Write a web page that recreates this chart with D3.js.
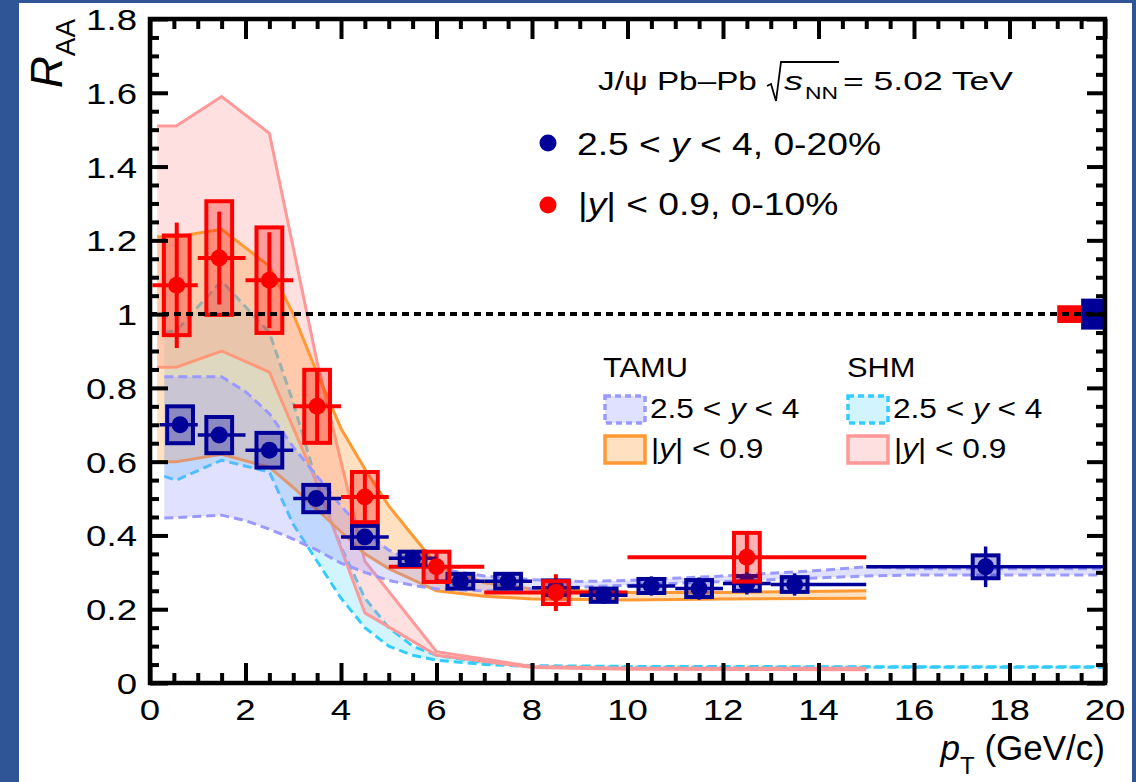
<!DOCTYPE html>
<html><head><meta charset="utf-8">
<script src="https://cdn.jsdelivr.net/npm/d3@7"></script>
<style>
html,body{margin:0;padding:0;background:#2f5596;}
svg{display:block;font-family:"Liberation Sans",Arial,Helvetica,sans-serif;}
text{white-space:pre;}
</style></head>
<body>
<svg id="c" width="1136" height="782"></svg>
<script>
// ---------- axes ----------
const xDomain=[0,20], yDomain=[0,1.8];
const xTickVals=[0,2,4,6,8,10,12,14,16,18,20];
const yTickVals=[0,0.2,0.4,0.6,0.8,1,1.2,1.4,1.6,1.8];
const xTickLabels=["0","2","4","6","8","10","12","14","16","18","20"];
const yTickLabels=["0","0.2","0.4","0.6","0.8","1","1.2","1.4","1.6","1.8"];

// ---------- data: forward 2.5<y<4, 0-20% ----------
const fwdPt  =[0.63,1.45,2.5,3.48,4.5,5.5,6.5,7.5,8.5,9.5,10.5,11.5,12.5,13.5,17.5];
const fwdLo  =[0.2,1,2,3,4,5,6,7,8,9,10,11,12,13,15];
const fwdHi  =[1,2,3,4,5,6,7,8,9,10,11,12,13,15,20];
const fwdRaa =[0.70,0.672,0.631,0.50,0.396,0.338,0.276,0.276,0.258,0.238,0.263,0.256,0.27,0.267,0.315];
const fwdStat=[0.02,0.02,0.02,0.015,0.015,0.012,0.015,0.018,0.02,0.022,0.026,0.03,0.03,0.03,0.055];
const fwdSyst=[0.05,0.049,0.047,0.037,0.03,0.018,0.02,0.02,0.02,0.018,0.019,0.023,0.02,0.02,0.031];

// ---------- data: mid |y|<0.9, 0-10% ----------
const midPt  =[0.56,1.45,2.5,3.5,4.5,6.0,8.5,12.5];
const midLo  =[0.05,1,2,3,4,5,7,10];
const midHi  =[1,2,3,4,5,7,10,15];
const midRaa =[1.078,1.152,1.092,0.75,0.504,0.315,0.245,0.341];
const midStat=[0.17,0.126,0.13,0.095,0.065,0.045,0.05,0.07];
const midSyst=[0.135,0.154,0.143,0.099,0.068,0.041,0.031,0.066];

// global normalisation uncertainties (mid, fwd)
const normLo=[19,19.5], normHi=[19.5,20], normUnc=[0.024,0.042];

// ---------- models ----------
const tamuFwdX =[0.3,1.5,2.0,2.5,3.0,3.5,4.0,4.5,5.0,5.5,6.0,7,8,9,10,12,14,15,16,18,20];
const tamuFwdHi=[0.83,0.83,0.79,0.73,0.64,0.56,0.48,0.41,0.36,0.33,0.31,0.29,0.28,0.275,0.278,0.29,0.305,0.315,0.31,0.31,0.31];
const tamuFwdLo=[0.447,0.455,0.44,0.417,0.39,0.36,0.325,0.30,0.278,0.265,0.255,0.25,0.255,0.26,0.265,0.275,0.285,0.29,0.293,0.293,0.293];

const tamuMidX =[0.15,0.55,1.5,2.5,3.0,3.5,4.0,4.5,5.0,5.5,6.0,7,8,10,12,15];
const tamuMidHi=[1.21,1.21,1.23,1.13,1.0,0.84,0.69,0.58,0.48,0.40,0.32,0.272,0.255,0.245,0.245,0.25];
const tamuMidLo=[0.60,0.60,0.62,0.585,0.53,0.47,0.41,0.35,0.31,0.28,0.25,0.235,0.228,0.225,0.228,0.23];

const shmFwdX =[0.3,0.55,1.5,2.5,3.0,3.5,4.0,4.5,5.0,5.5,6.0,7,8,10,15,20];
const shmFwdHi=[0.95,0.955,1.09,0.95,0.76,0.54,0.37,0.23,0.15,0.10,0.075,0.055,0.047,0.045,0.044,0.044];
const shmFwdLo=[0.56,0.55,0.604,0.572,0.43,0.33,0.23,0.15,0.10,0.075,0.062,0.05,0.045,0.043,0.043,0.043];

const shmMidX =[0.15,0.55,1.5,2.5,3.5,4.5,6,8,10,15];
const shmMidHi=[1.51,1.51,1.59,1.49,0.87,0.33,0.085,0.045,0.04,0.04];
const shmMidLo=[0.856,0.856,0.90,0.843,0.54,0.19,0.075,0.042,0.037,0.036];

// ---------- drawing ----------
const svg=d3.select("#c");
svg.append("rect").attr("width",1136).attr("height",782).attr("fill","#2f5596");
svg.append("rect").attr("x",19).attr("y",3).attr("width",1113).attr("height",779).attr("fill","#fff");

const x=d3.scaleLinear().domain(xDomain).range([150,1105]);
const y=d3.scaleLinear().domain(yDomain).range([683,19]);

svg.append("clipPath").attr("id","plot").append("rect")
  .attr("x",x(0)).attr("y",y(1.8)).attr("width",x(20)-x(0)).attr("height",y(0)-y(1.8));
const gp=svg.append("g").attr("clip-path","url(#plot)");

const BLUE="#000099", RED="#ff0000";
const models=[
  {X:shmFwdX, lo:shmFwdLo, hi:shmFwdHi, col:"#33ccff", op:0.22, dash:"9,5"},
  {X:shmMidX, lo:shmMidLo, hi:shmMidHi, col:"#ff9999", op:0.30, dash:null},
  {X:tamuMidX,lo:tamuMidLo,hi:tamuMidHi,col:"#ff9933", op:0.30, dash:null},
  {X:tamuFwdX,lo:tamuFwdLo,hi:tamuFwdHi,col:"#9999ff", op:0.30, dash:"9,5"}
];
const area=d3.area().x(d=>x(d.x)).y0(d=>y(d.lo)).y1(d=>y(d.hi));
const lineHi=d3.line().x(d=>x(d.x)).y(d=>y(d.hi));
const lineLo=d3.line().x(d=>x(d.x)).y(d=>y(d.lo));
models.forEach(m=>{
  const pts=m.X.map((v,i)=>({x:v,lo:m.lo[i],hi:m.hi[i]}));
  gp.append("path").attr("d",area(pts)).attr("fill",m.col).attr("fill-opacity",m.op);
  [lineHi,lineLo].forEach(gen=>{
    gp.append("path").attr("d",gen(pts)).attr("fill","none").attr("stroke",m.col)
      .attr("stroke-width",3).attr("stroke-dasharray",m.dash);
  });
});

// normalisation boxes
const normCols=[RED,BLUE];
normLo.forEach((v,i)=>{
  gp.append("rect").attr("x",x(v)).attr("width",x(normHi[i])-x(v))
    .attr("y",y(1+normUnc[i])).attr("height",y(1-normUnc[i])-y(1+normUnc[i]))
    .attr("fill",normCols[i]);
});

const HW=0.27; // half width of syst boxes in pT units
function bars(P,L,Hh,R,S,col,w){
  P.forEach((p,i)=>{
    gp.append("line").attr("x1",x(L[i])).attr("x2",x(Hh[i])).attr("y1",y(R[i])).attr("y2",y(R[i]))
      .attr("stroke",col).attr("stroke-width",w);
    gp.append("line").attr("x1",x(p)).attr("x2",x(p)).attr("y1",y(R[i]-S[i])).attr("y2",y(R[i]+S[i]))
      .attr("stroke",col).attr("stroke-width",w);
  });
}
function boxes(P,R,S,col,op,w){
  P.forEach((p,i)=>{
    gp.append("rect").attr("x",x(p-HW)).attr("width",x(p+HW)-x(p-HW))
      .attr("y",y(R[i]+S[i])).attr("height",y(R[i]-S[i])-y(R[i]+S[i]))
      .attr("fill",col).attr("fill-opacity",op).attr("stroke",col).attr("stroke-width",w);
  });
}
function markers(P,R,col){
  P.forEach((p,i)=>gp.append("circle").attr("cx",x(p)).attr("cy",y(R[i])).attr("r",8.5).attr("fill",col));
}
bars(midPt,midLo,midHi,midRaa,midStat,RED,4);
bars(fwdPt,fwdLo,fwdHi,fwdRaa,fwdStat,BLUE,3.5);
boxes(fwdPt,fwdRaa,fwdSyst,BLUE,0.3,4);
markers(fwdPt,fwdRaa,BLUE);
boxes(midPt,midRaa,midSyst,RED,0.3,4);
markers(midPt,midRaa,RED);

// reference line at 1
gp.append("line").attr("x1",x(0)).attr("x2",x(20)).attr("y1",y(1)).attr("y2",y(1))
  .attr("stroke","#000").attr("stroke-width",4).attr("stroke-dasharray","7,5");

// ---------- axes ----------
const xMinor=d3.range(0,20.01,0.5).filter(v=>Math.abs(v/2-Math.round(v/2))>1e-6);
const yMinor=d3.range(0,1.801,0.05).filter(v=>Math.abs(v/0.2-Math.round(v/0.2))>1e-6);
function axisG(gen,tr){
  const g=svg.append("g").attr("transform",tr).call(gen);
  g.select(".domain").remove();
  g.selectAll("line").attr("stroke","#000").attr("stroke-width",4);
  return g;
}
axisG(d3.axisBottom(x).tickValues(xTickVals).tickSize(-20).tickSizeOuter(0).tickFormat(""),`translate(0,${y(0)})`);
axisG(d3.axisBottom(x).tickValues(xMinor).tickSize(-10).tickSizeOuter(0).tickFormat(""),`translate(0,${y(0)})`);
axisG(d3.axisTop(x).tickValues(xTickVals).tickSize(-20).tickSizeOuter(0).tickFormat(""),`translate(0,${y(1.8)})`);
axisG(d3.axisTop(x).tickValues(xMinor).tickSize(-10).tickSizeOuter(0).tickFormat(""),`translate(0,${y(1.8)})`);
axisG(d3.axisLeft(y).tickValues(yTickVals).tickSize(-18).tickSizeOuter(0).tickFormat(""),`translate(${x(0)},0)`);
axisG(d3.axisLeft(y).tickValues(yMinor).tickSize(-9).tickSizeOuter(0).tickFormat(""),`translate(${x(0)},0)`);
axisG(d3.axisRight(y).tickValues(yTickVals).tickSize(-18).tickSizeOuter(0).tickFormat(""),`translate(${x(20)},0)`);
axisG(d3.axisRight(y).tickValues(yMinor).tickSize(-9).tickSizeOuter(0).tickFormat(""),`translate(${x(20)},0)`);
svg.append("rect").attr("x",x(0)).attr("y",y(1.8)).attr("width",x(20)-x(0)).attr("height",y(0)-y(1.8))
  .attr("fill","none").attr("stroke","#000").attr("stroke-width",4.5);

const TSX=1.22;
xTickVals.forEach((v,i)=>{
  svg.append("text").attr("transform",`translate(${x(v)},720) scale(${TSX},1)`)
    .attr("text-anchor","middle").attr("font-size",30).text(xTickLabels[i]);
});
yTickVals.forEach((v,i)=>{
  svg.append("text").attr("transform",`translate(137,${y(v)+11}) scale(${TSX},1)`)
    .attr("text-anchor","end").attr("font-size",30).text(yTickLabels[i]);
});

// axis titles
const yt=svg.append("text").attr("transform","translate(62,88) rotate(-90)").attr("font-size",44);
yt.append("tspan").attr("font-style","italic").text("R");
yt.append("tspan").attr("font-size",28).attr("dy",13).text("AA");
const xt=svg.append("text").attr("transform","translate(1105,760)").attr("text-anchor","end").attr("font-size",35);
xt.append("tspan").attr("font-style","italic").text("p");
xt.append("tspan").attr("font-size",24).attr("dy",14).text("T");
xt.append("tspan").attr("dy",-14).text(" (GeV/c)");

// header: pieces fitted to the spans seen in the reference
function fitText(x0,x1,yb,fs,str,italic){
  const t=svg.append("text").attr("font-size",fs).text(str);
  if(italic) t.attr("font-style","italic");
  const w=t.node().getComputedTextLength();
  t.attr("transform",`translate(${x0},${yb}) scale(${(x1-x0)/w},1)`);
  return t;
}
fitText(598,757,90,25,"J/ψ Pb–Pb",false);
fitText(784,803,90,25,"s",true);
fitText(805,838,99,17,"NN",false);
fitText(843,1013,90,25,"= 5.02 TeV",false);
svg.append("path").attr("d","M767,86 L771,84 L776,101 L781,62 L839,62")
  .attr("fill","none").attr("stroke","#000").attr("stroke-width",1.8);

// data legend
const LSX=1.2;
function legText(xp,yp,fs,sx,parts){
  const t=svg.append("text").attr("transform",`translate(${xp},${yp}) scale(${sx},1)`).attr("font-size",fs);
  parts.forEach(p=>{ const s=t.append("tspan").text(p[0]); if(p[1]) s.attr("font-style","italic"); });
  return t;
}
svg.append("circle").attr("cx",548).attr("cy",143).attr("r",8.5).attr("fill",BLUE);
svg.append("circle").attr("cx",548).attr("cy",205).attr("r",8.5).attr("fill",RED);
legText(577,155,31,LSX,[["2.5 < "],["y",1],[" < 4, 0-20%"]]);
legText(578,215,31,LSX,[["|"],["y",1],["| < 0.9, 0-10%"]]);

// model legend
const MSX=1.13;
legText(603,377,28,1.1,[["TAMU"]]);
legText(847,377,28,1.1,[["SHM"]]);
const legBoxes=[
  {x:605,y:396,m:3},{x:605,y:436,m:2},{x:848,y:396,m:0},{x:848,y:436,m:1}
];
legBoxes.forEach(b=>{
  const m=models[b.m];
  svg.append("rect").attr("x",b.x).attr("y",b.y).attr("width",40).attr("height",27)
    .attr("fill",m.col).attr("fill-opacity",m.op).attr("stroke",m.col).attr("stroke-width",3.5)
    .attr("stroke-dasharray",m.dash?"6,4":null);
});
legText(650,418,28,MSX,[["2.5 < "],["y",1],[" < 4"]]);
legText(651,458,28,MSX,[["|"],["y",1],["| < 0.9"]]);
legText(893,418,28,MSX,[["2.5 < "],["y",1],[" < 4"]]);
legText(894,458,28,MSX,[["|"],["y",1],["| < 0.9"]]);
</script>
</body></html>
